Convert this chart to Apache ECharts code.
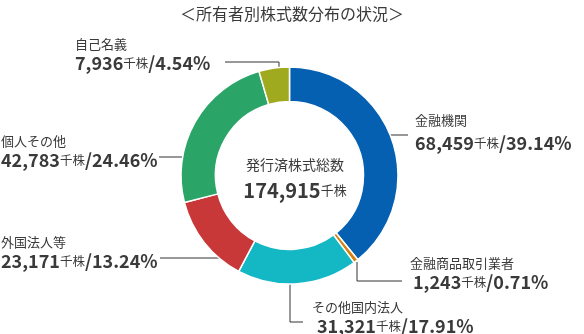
<!DOCTYPE html>
<html>
<head>
<meta charset="utf-8">
<script src="https://cdn.jsdelivr.net/npm/echarts@6/dist/echarts.min.js"></script>
<style>
html,body{margin:0;padding:0;background:#fff;}
#chart{width:584px;height:334px;}
</style>
</head>
<body>
<div id="chart"></div>
<script>
// ---- data ----
const categories = ['金融機関', '金融商品取引業者', 'その他国内法人', '外国法人等', '個人その他', '自己名義'];
const shares = [68459, 1243, 31321, 23171, 42783, 7936];        // 千株
const percents = ['39.14', '0.71', '17.91', '13.24', '24.46', '4.54'];
const totalShares = '174,915';
const chartTitle = '＜所有者別株式数分布の状況＞';
const centerTitle = '発行済株式総数';
const unit = '千株';

// ---- styling / layout ----
const colors = ['#0560B2', '#D4820F', '#14B8C4', '#C93838', '#2AA567', '#A0AA1E'];
const FONT = '"Noto Sans CJK JP", "Noto Sans", sans-serif';
const TEXT = '#3a3a3a';
// label box top-left, value indent, title/value gap, leader line points
const labelPos = [
  { x: 415, y: 111, indent: 0, gap: 28, line: [[382, 135], [408, 135]] },
  { x: 410, y: 254, indent: 3, gap: 20, line: [[357, 262], [357, 281], [402, 281]] },
  { x: 312, y: 298, indent: 5, gap: 20, line: [[290, 283], [290, 322], [303, 322]] },
  { x: 1,   y: 233, indent: 0, gap: 20, line: [[227, 258], [160, 258]] },
  { x: 1,   y: 132, indent: 0, gap: 20, line: [[206, 157], [159, 157]] },
  { x: 75,  y: 35,  indent: 0, gap: 20, line: [[279, 87], [279, 62], [225, 62]] }
];

function fmt(n) { return n.toLocaleString('en-US'); }

const data = categories.map((c, i) => ({
  name: c,
  value: shares[i],
  itemStyle: { color: colors[i] },
  label: {
    rich: {
      t: { fontSize: 13, lineHeight: 18, color: TEXT, fontFamily: FONT },
      n: { fontSize: 18, fontWeight: 'bold', lineHeight: labelPos[i].gap, color: TEXT, fontFamily: FONT, padding: [0, 0, 0, labelPos[i].indent] },
      u: { fontSize: 12.5, lineHeight: labelPos[i].gap, color: TEXT, fontFamily: FONT },
      p: { fontSize: 18, fontWeight: 'bold', lineHeight: labelPos[i].gap, color: TEXT, fontFamily: FONT }
    }
  }
}));

const chart = echarts.init(document.getElementById('chart'), null, { renderer: 'canvas' });
chart.setOption({
  animation: false,
  title: [
    {
      text: chartTitle, left: 'center', top: 1,
      textStyle: { fontSize: 16, fontWeight: 'normal', color: TEXT, fontFamily: FONT }
    },
    {
      text: '{a|' + centerTitle + '}\n{b|' + totalShares + '}{c|' + unit + '}',
      left: 290, top: 148, textAlign: 'center',
      textStyle: {
        fontWeight: 'normal',
        rich: {
          a: { fontSize: 14, fontWeight: 'normal', lineHeight: 24, color: TEXT, fontFamily: FONT, align: 'center' },
          b: { fontSize: 20, fontWeight: 'bold', lineHeight: 26, color: TEXT, fontFamily: FONT },
          c: { fontSize: 13, fontWeight: 'normal', lineHeight: 26, color: TEXT, fontFamily: FONT }
        }
      }
    }
  ],
  series: [{
    type: 'pie',
    center: [289.5, 175.5],
    radius: [74, 108.5],
    startAngle: 90,
    clockwise: true,
    avoidLabelOverlap: false,
    itemStyle: { borderColor: '#fff', borderWidth: 1.5 },
    label: {
      show: true,
      formatter: p => '{t|' + p.name + '}\n{n|' + fmt(shares[p.dataIndex]) + '}{u|' + unit + '}{p|/' + percents[p.dataIndex] + '%}',
      align: 'left'
    },
    labelLine: { show: true, lineStyle: { color: '#333', width: 1 } },
    labelLayout: function (params) {
      const L = labelPos[params.dataIndex];
      return {
        x: L.x, y: L.y, align: 'left', verticalAlign: 'top',
        labelLinePoints: L.line
      };
    },
    emphasis: { disabled: true },
    data: data
  }]
});
</script>
</body>
</html>
